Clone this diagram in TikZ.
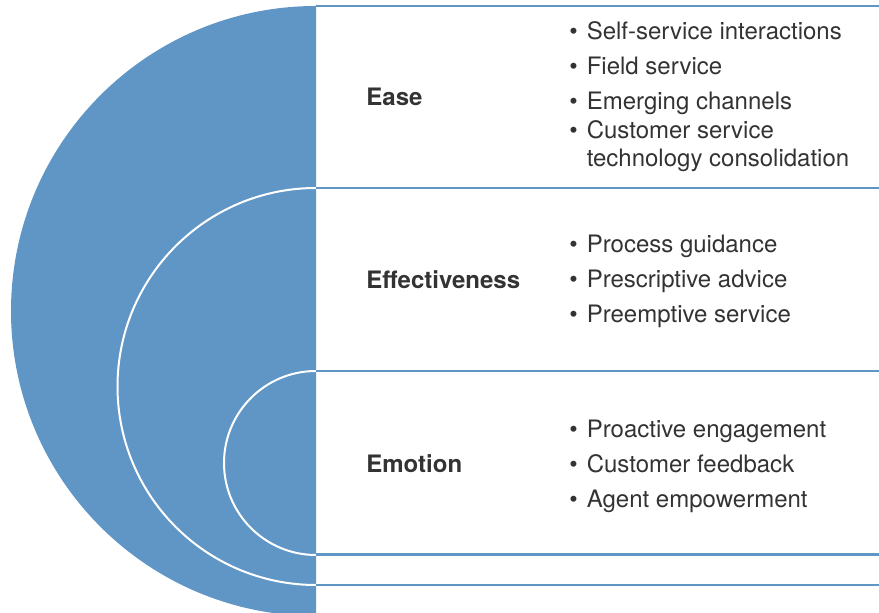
\documentclass[tikz,border=0pt]{standalone}
\usepackage{fontspec}
\setmainfont{TeX Gyre Heros}
\usetikzlibrary{positioning}
\definecolor{wedgeblue}{RGB}{96,150,198}
\definecolor{textgray}{RGB}{51,51,51}
\newcommand{\picfont}{\fontsize{12}{14.25}\selectfont}
\tikzstyle{heading} = [anchor=base west, font=\picfont\bfseries, text=textgray, inner sep=0pt]
\tikzstyle{itemlist} = [anchor=west, align=left, font=\picfont, text=textgray, inner sep=0pt]
\tikzstyle{divider} = [wedgeblue, line width=1.1pt]
\tikzstyle{ring} = [white, line width=1pt]
\newcommand{\bulletlist}[1]{\begin{tabular}{@{}l@{\hspace{4.5pt}}l@{}}#1\end{tabular}}

\begin{document}
\begin{tikzpicture}[x=0.5pt, y=-0.5pt]
\useasboundingbox (0,0) rectangle (879,613);

% Wedge and rings
\begin{scope}
\clip (0,0) rectangle (316,613);
\fill[wedgeblue] (316,311) circle[radius=305];
\draw[ring] (316,386.5) circle[radius=198.5];
\draw[ring] (316,463) circle[radius=92];
\end{scope}

% Dividers
\foreach \y in {6,188,371,554.5,585}
  \draw[divider] (316,\y) -- (879,\y);

% Headings
\node (ease) [heading] at (366,106) {Ease};
\node (effect) [heading] at (366,288.5) {Effectiveness};
\node (emotion) [heading] at (366,473) {Emotion};

% Lists
\node (easeList) [itemlist] at (569,97.5) {\bulletlist{%
  \textbullet & Self-service interactions\\[3.25pt]
  \textbullet & Field service\\[3.25pt]
  \textbullet & Emerging channels\\[0pt]
  \textbullet & Customer service\\
  & technology consolidation}};
\node (effectList) [itemlist] at (569,282) {\bulletlist{%
  \textbullet & Process guidance\\[3.25pt]
  \textbullet & Prescriptive advice\\[3.25pt]
  \textbullet & Preemptive service}};
\node (emotionList) [itemlist] at (569,467) {\bulletlist{%
  \textbullet & Proactive engagement\\[3.25pt]
  \textbullet & Customer feedback\\[3.25pt]
  \textbullet & Agent empowerment}};

\end{tikzpicture}
\end{document}
